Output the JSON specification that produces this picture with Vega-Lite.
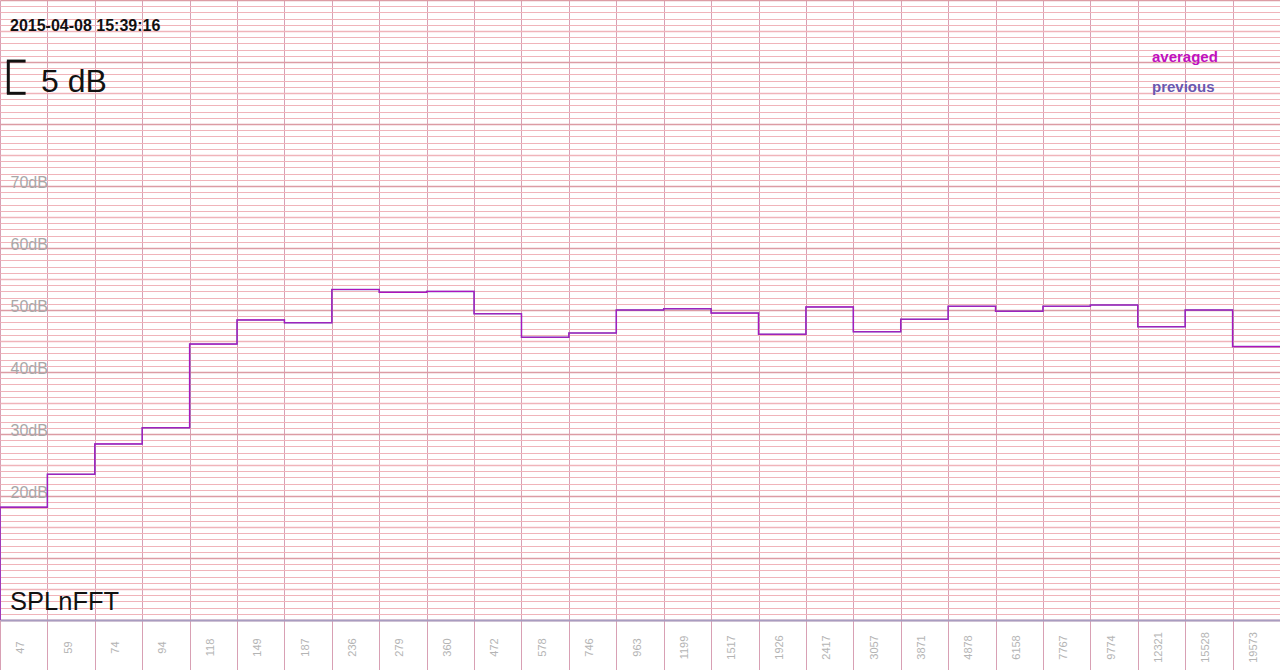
{
  "$schema": "https://vega.github.io/schema/vega-lite/v6.json",
  "width": 1280,
  "height": 620,
  "autosize": {"type": "none"},
  "padding": {"left": 0, "top": 0, "right": 0, "bottom": 50},
  "background": "white",
  "config": {"view": {"stroke": null}, "font": "Liberation Sans", "text": {"font": "Liberation Sans"}},
  "datasets": {
    "spl": [
      {"k": 0, "i": 0, "band": "", "db": 0},
      {"k": 1, "i": 0, "band": "47", "db": 18.2},
      {"k": 2, "i": 1, "band": "59", "db": 23.5},
      {"k": 3, "i": 2, "band": "74", "db": 28.4},
      {"k": 4, "i": 3, "band": "94", "db": 31.0},
      {"k": 5, "i": 4, "band": "118", "db": 44.5},
      {"k": 6, "i": 5, "band": "149", "db": 48.4},
      {"k": 7, "i": 6, "band": "187", "db": 47.95},
      {"k": 8, "i": 7, "band": "236", "db": 53.3},
      {"k": 9, "i": 8, "band": "279", "db": 52.85},
      {"k": 10, "i": 9, "band": "360", "db": 53.0},
      {"k": 11, "i": 10, "band": "472", "db": 49.4},
      {"k": 12, "i": 11, "band": "578", "db": 45.6},
      {"k": 13, "i": 12, "band": "746", "db": 46.3},
      {"k": 14, "i": 13, "band": "963", "db": 50.0},
      {"k": 15, "i": 14, "band": "1199", "db": 50.2},
      {"k": 16, "i": 15, "band": "1517", "db": 49.5},
      {"k": 17, "i": 16, "band": "1926", "db": 46.1},
      {"k": 18, "i": 17, "band": "2417", "db": 50.5},
      {"k": 19, "i": 18, "band": "3057", "db": 46.5},
      {"k": 20, "i": 19, "band": "3871", "db": 48.5},
      {"k": 21, "i": 20, "band": "4878", "db": 50.6},
      {"k": 22, "i": 21, "band": "6158", "db": 49.8},
      {"k": 23, "i": 22, "band": "7767", "db": 50.6},
      {"k": 24, "i": 23, "band": "9774", "db": 50.8},
      {"k": 25, "i": 24, "band": "12321", "db": 47.3},
      {"k": 26, "i": 25, "band": "15528", "db": 50.0},
      {"k": 27, "i": 26, "band": "19573", "db": 44.1},
      {"k": 28, "i": 27, "band": "", "db": 44.1}
    ]
  },
  "layer": [
    {
      "data": {"name": "spl"},
      "mark": {"type": "line", "interpolate": "step-after", "strokeWidth": 1.5, "color": "#7050b8"},
      "encoding": {
        "x": {
          "field": "i", "type": "quantitative",
          "scale": {"domain": [0, 27], "nice": false, "zero": false},
          "axis": {
            "title": null,
            "tickCount": 1000,
            "values": [0,0.5,1,1.5,2,2.5,3,3.5,4,4.5,5,5.5,6,6.5,7,7.5,8,8.5,9,9.5,10,10.5,11,11.5,12,12.5,13,13.5,14,14.5,15,15.5,16,16.5,17,17.5,18,18.5,19,19.5,20,20.5,21,21.5,22,22.5,23,23.5,24,24.5,25,25.5,26,26.5,27],
            "labelExpr": "datum.value % 1 !== 0 ? ['47','59','74','94','118','149','187','236','279','360','472','578','746','963','1199','1517','1926','2417','3057','3871','4878','6158','7767','9774','12321','15528','19573'][floor(datum.value)] : ''",
            "labelAngle": 270,
            "labelAlign": "center",
            "labelBaseline": "middle",
            "labelPadding": -23,
            "labelOffset": -3,
            "labelColor": "#b4b4b4",
            "labelFontSize": 11,
            "labelFont": "Liberation Sans",
            "labelOverlap": false,
            "labelBound": false,
            "labelFlush": false,
            "tickSize": 50,
            "tickColor": "#d8a0b4",
            "tickOpacity": {"condition": {"test": "datum.value % 1 !== 0", "value": 0}, "value": 1},
            "grid": true,
            "gridColor": "#d8a0b4",
            "gridOpacity": {"condition": {"test": "datum.value % 1 !== 0", "value": 0}, "value": 1},
            "domainColor": "#a89cc0",
            "domainWidth": 2
          }
        },
        "y": {
          "field": "db", "type": "quantitative",
          "scale": {"domain": [0, 100], "nice": false, "zero": true},
          "axis": {
            "title": null,
            "tickCount": 1000,
            "values": [0,1,2,3,4,5,6,7,8,9,10,11,12,13,14,15,16,17,18,19,20,21,22,23,24,25,26,27,28,29,30,31,32,33,34,35,36,37,38,39,40,41,42,43,44,45,46,47,48,49,50,51,52,53,54,55,56,57,58,59,60,61,62,63,64,65,66,67,68,69,70,71,72,73,74,75,76,77,78,79,80,81,82,83,84,85,86,87,88,89,90,91,92,93,94,95,96,97,98,99,100],
            "grid": true,
            "gridColor": {"condition": {"test": "datum.value % 10 === 0", "value": "#dc9ca4"}, "value": "#f0b4ba"},
            "gridWidth": {"condition": {"test": "datum.value % 5 === 0", "value": 1.7}, "value": 1},
            "domain": false,
            "ticks": false,
            "labelExpr": "datum.value >= 20 && datum.value <= 70 && datum.value % 10 === 0 ? datum.value + 'dB' : ''",
            "labelAlign": "left",
            "labelBaseline": "alphabetic",
            "labelPadding": -10,
            "labelOffset": 1,
            "labelColor": "#a8a8a8",
            "labelFontSize": 16,
            "labelFont": "Liberation Sans",
            "labelOverlap": false,
            "labelBound": false,
            "labelFlush": false
          }
        },
        "order": {"field": "k", "type": "quantitative"}
      }
    },
    {
      "data": {"name": "spl"},
      "mark": {"type": "line", "interpolate": "step-after", "strokeWidth": 1.1, "color": "#c000c0", "opacity": 0.75},
      "encoding": {
        "x": {"field": "i", "type": "quantitative"},
        "y": {"field": "db", "type": "quantitative"},
        "order": {"field": "k", "type": "quantitative"}
      }
    },
    {
      "data": {"values": [{}]},
      "mark": {"type": "rule", "color": "#111111", "strokeWidth": 3},
      "encoding": {
        "x": {"datum": 0.175, "type": "quantitative"},
        "y": {"datum": 84.95, "type": "quantitative"},
        "y2": {"datum": 90.15}
      }
    },
    {
      "data": {"values": [{}]},
      "mark": {"type": "rule", "color": "#111111", "strokeWidth": 3},
      "encoding": {
        "x": {"datum": 0.145, "type": "quantitative"},
        "x2": {"datum": 0.54},
        "y": {"datum": 90.15, "type": "quantitative"}
      }
    },
    {
      "data": {"values": [{}]},
      "mark": {"type": "rule", "color": "#111111", "strokeWidth": 3},
      "encoding": {
        "x": {"datum": 0.145, "type": "quantitative"},
        "x2": {"datum": 0.54},
        "y": {"datum": 84.95, "type": "quantitative"}
      }
    },
    {
      "data": {"values": [{}]},
      "mark": {"type": "text", "text": "5 dB", "fontSize": 32, "align": "left", "baseline": "alphabetic", "color": "#111111"},
      "encoding": {
        "x": {"datum": 0.865, "type": "quantitative"},
        "y": {"datum": 85.2, "type": "quantitative"}
      }
    },
    {
      "data": {"values": [{}]},
      "mark": {"type": "text", "text": "2015-04-08 15:39:16", "fontSize": 16, "fontWeight": "bold", "align": "left", "baseline": "alphabetic", "color": "#111111"},
      "encoding": {
        "x": {"datum": 0.211, "type": "quantitative"},
        "y": {"datum": 95.0, "type": "quantitative"}
      }
    },
    {
      "data": {"values": [{}]},
      "mark": {"type": "text", "text": "SPLnFFT", "fontSize": 25.5, "align": "left", "baseline": "alphabetic", "color": "#111111"},
      "encoding": {
        "x": {"datum": 0.211, "type": "quantitative"},
        "y": {"datum": 1.61, "type": "quantitative"}
      }
    },
    {
      "data": {"values": [{}]},
      "mark": {"type": "text", "text": "averaged", "fontSize": 15, "fontWeight": "bold", "align": "left", "baseline": "alphabetic", "color": "#c010c0"},
      "encoding": {
        "x": {"datum": 24.3, "type": "quantitative"},
        "y": {"datum": 90.05, "type": "quantitative"}
      }
    },
    {
      "data": {"values": [{}]},
      "mark": {"type": "text", "text": "previous", "fontSize": 15, "fontWeight": "bold", "align": "left", "baseline": "alphabetic", "color": "#6a58b0"},
      "encoding": {
        "x": {"datum": 24.3, "type": "quantitative"},
        "y": {"datum": 85.1, "type": "quantitative"}
      }
    }
  ]
}
